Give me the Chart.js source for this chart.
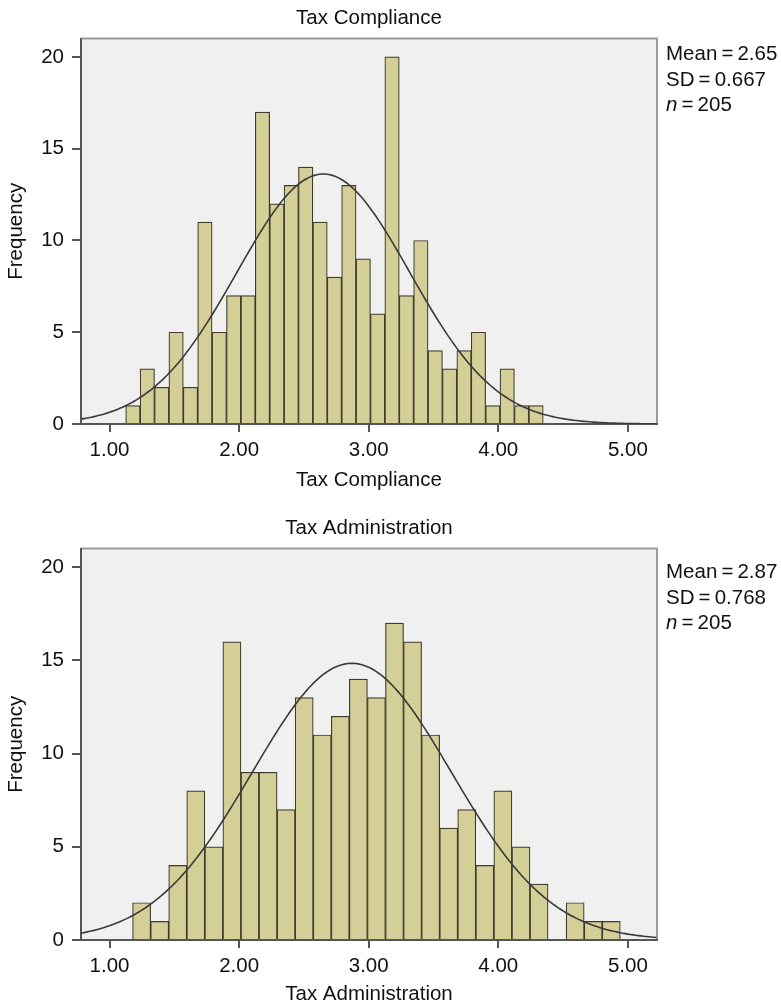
<!DOCTYPE html>
<html>
<head>
<meta charset="utf-8">
<script src="https://cdn.jsdelivr.net/npm/chart.js@4"></script>
<style>
  body { margin: 0; background: #fff; width: 781px; height: 1007px; position: relative; overflow: hidden; }
  canvas { position: absolute; left: 0; }
  #c1 { top: 0; }
  #c2 { top: 500px; }
  .stats { position: absolute; left: 666px; font-family: 'Liberation Sans', Arial, sans-serif; font-size: 20.5px; line-height: 25.5px; color: #111; }
</style>
</head>
<body>
<canvas id="c1" width="781" height="500"></canvas>
<canvas id="c2" width="781" height="507"></canvas>
<div class="stats" style="top:40px">Mean&thinsp;=&thinsp;2.65<br>SD&thinsp;=&thinsp;0.667<br><i>n</i>&thinsp;=&thinsp;205</div>
<div class="stats" style="top:558px">Mean&thinsp;=&thinsp;2.87<br>SD&thinsp;=&thinsp;0.768<br><i>n</i>&thinsp;=&thinsp;205</div>
<script>
// Histogram counts
const complianceCounts = [1, 3, 2, 5, 2, 11, 5, 7, 7, 17, 12, 13, 14, 11, 8, 13, 9, 6, 20, 7, 10, 4, 3, 4, 5, 1, 3, 1, 1];
const adminCounts = [2, 1, 4, 8, 5, 16, 9, 9, 7, 13, 11, 12, 14, 13, 17, 16, 11, 6, 7, 4, 8, 5, 3, 0, 2, 1, 1];

// Bin layout (first bin edge and bin width)
const complianceBinStart = 1.125;
const complianceBinWidth = 0.1111;
const adminBinStart = 1.178;
const adminBinWidth = 0.1394;

// Stats shown next to each chart
const complianceStats = { mean: 2.65, sd: 0.667, n: 205 };
const adminStats = { mean: 2.87, sd: 0.768, n: 205 };

const xTicks = [1, 2, 3, 4, 5];
const yTicks = [0, 5, 10, 15, 20];
const xMin = 0.78, xMax = 5.225;
const yMax = 21;

Chart.defaults.font.family = "'Liberation Sans', Arial, sans-serif";
Chart.defaults.color = '#111';

const barFill = '#d4cf96';
const barEdge = '#3d3b2c';
const axisColor = '#555';

// light grey plot area with grey top/right frame
const framePlugin = {
    id: 'frame',
    beforeDraw(chart) {
        const { ctx, chartArea: a } = chart;
        ctx.save();
        ctx.fillStyle = '#f0f0f0';
        ctx.fillRect(a.left, a.top, a.width, a.height);
        ctx.strokeStyle = '#9a9a9a';
        ctx.lineWidth = 2;
        ctx.beginPath();
        ctx.moveTo(a.left, a.top);
        ctx.lineTo(a.right, a.top);
        ctx.lineTo(a.right, a.bottom);
        ctx.stroke();
        ctx.restore();
    }
};

function normalCurve(stats, binWidth) {
    const pts = [];
    const k = stats.n * binWidth / (stats.sd * Math.sqrt(2 * Math.PI));
    for (let x = xMin; x <= xMax + 1e-9; x += 0.02) {
        const z = (x - stats.mean) / stats.sd;
        pts.push({ x: x, y: k * Math.exp(-0.5 * z * z) });
    }
    return pts;
}

function makeChart(id, title, counts, binStart, binWidth, stats, layout) {
    const bars = counts.map((c, i) => ({ x: binStart + binWidth * (i + 0.5), y: c }));
    return new Chart(document.getElementById(id), {
        data: {
            datasets: [{
                type: 'line',
                data: normalCurve(stats, binWidth),
                borderColor: '#3a3a3a',
                borderWidth: 1.6,
                pointRadius: 0,
                tension: 0,
                order: 0
            }, {
                type: 'bar',
                data: bars,
                backgroundColor: barFill,
                borderColor: barEdge,
                borderWidth: 1.2,
                borderSkipped: 'start',
                barPercentage: 1,
                categoryPercentage: 1,
                order: 1
            }]
        },
        options: {
            responsive: false,
            devicePixelRatio: 1,
            animation: false,
            layout: { padding: { left: 0, right: 124, top: 0, bottom: 0 } },
            plugins: {
                legend: { display: false },
                tooltip: { enabled: false },
                title: {
                    display: true,
                    text: title,
                    fullSize: false,
                    color: '#111',
                    font: { size: 20.5, weight: 'normal' },
                    padding: { top: layout.titleTop, bottom: layout.titleBottom }
                }
            },
            scales: {
                x: {
                    type: 'linear',
                    offset: false,
                    min: xMin,
                    max: xMax,
                    afterBuildTicks: s => { s.ticks = xTicks.map(v => ({ value: v })); },
                    afterFit: s => { s.height = layout.xHeight; },
                    grid: { offset: false, drawOnChartArea: false, tickLength: 8, color: axisColor, lineWidth: 2 },
                    border: { color: axisColor, width: 2 },
                    ticks: { font: { size: 20.5 }, padding: 6, maxRotation: 0, callback: v => v.toFixed(2) },
                    title: {
                        display: true,
                        text: title,
                        font: { size: 20.5 },
                        padding: { top: 0, bottom: layout.xTitleBottom }
                    }
                },
                y: {
                    min: 0,
                    max: yMax,
                    afterBuildTicks: s => { s.ticks = yTicks.map(v => ({ value: v })); },
                    afterFit: s => { s.width = 81; },
                    grid: { drawOnChartArea: false, tickLength: 9, color: axisColor, lineWidth: 2 },
                    border: { color: axisColor, width: 2 },
                    ticks: { font: { size: 20.5 }, padding: 8 },
                    title: {
                        display: true,
                        text: 'Frequency',
                        font: { size: 20.5 },
                        padding: { top: 4, bottom: 0 }
                    }
                }
            }
        },
        plugins: [framePlugin]
    });
}

makeChart('c1', 'Tax Compliance', complianceCounts, complianceBinStart, complianceBinWidth, complianceStats,
    { titleTop: 6, titleBottom: 8, xHeight: 76, xTitleBottom: 7 });
makeChart('c2', 'Tax Administration', adminCounts, adminBinStart, adminBinWidth, adminStats,
    { titleTop: 16, titleBottom: 8, xHeight: 67, xTitleBottom: 0 });
</script>
</body>
</html>
